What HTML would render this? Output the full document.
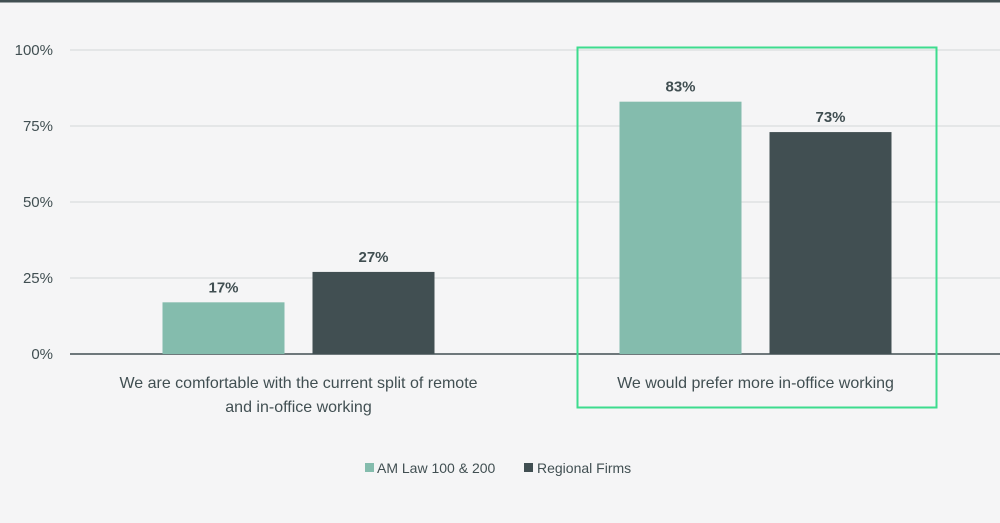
<!DOCTYPE html>
<html><head><meta charset="utf-8"><style>
body{margin:0;background:#f5f5f6;font-family:"Liberation Sans",sans-serif}
</style></head><body>
<svg width="1000" height="518" viewBox="0 0 1000 518" id="chart">
<rect x="0" y="0" width="1000" height="518" fill="#f5f5f6"/>
<rect x="0" y="0" width="1000" height="2.5" fill="#414f52"/>
<g id="grid"></g><g id="bars"></g><g id="labels"></g>
<rect x="577.5" y="47.5" width="359" height="360" fill="none" stroke="#3ddc8e" stroke-width="2"/>
<g font-size="14" fill="#414f52">
<rect x="365" y="463" width="9" height="9" fill="#84bcad"/>
<text x="377" y="473">AM Law 100 &amp; 200</text>
<rect x="524" y="463" width="9" height="9" fill="#414f52"/>
<text x="537" y="473">Regional Firms</text>
</g>
</svg>
<script>
const categories=[["We are comfortable with the current split of remote","and in-office working"],["We would prefer more in-office working"]];
const amLaw=[17,83];
const regional=[27,73];
const ticks=[0,25,50,75,100];
const ns="http://www.w3.org/2000/svg";
const y=v=>354-v*3.04;
const x0=70,bw=457;
function mk(t,a,p){const e=document.createElementNS(ns,t);for(const k in a)e.setAttribute(k,a[k]);p.appendChild(e);return e;}
const grid=document.getElementById('grid'),bars=document.getElementById('bars'),labels=document.getElementById('labels');
ticks.forEach(t=>{
const l=mk('line',{x1:70,x2:1000,y1:y(t),y2:y(t),stroke:t===0?'#414f52':'#d4d6d8','stroke-width':t===0?1.5:1},grid);


const tx=mk('text',{x:53,y:y(t)+5,'text-anchor':'end','font-size':15,fill:'#414f52'},grid);
tx.textContent=t+'%';


});
const series=[[amLaw,'#84bcad','amlaw',-136],[regional,'#414f52','regional',14]];
categories.forEach((c,i)=>{
const cx=x0+bw*i+bw/2;
series.forEach(([vals,col,nm,off])=>{
const v=vals[i];
const r=mk('rect',{x:cx+off,y:y(v),width:122,height:354-y(v),fill:col},bars);


const t=mk('text',{x:cx+off+61,y:y(v)-10,'text-anchor':'middle','font-size':15,'font-weight':'bold',fill:'#414f52'},labels);
t.textContent=v+'%';


});
c.forEach((line,j)=>{
const t=mk('text',{x:cx,y:388+j*24,'text-anchor':'middle','font-size':16,fill:'#414f52'},labels);
t.textContent=line;


});
});
</script>
</body></html>
